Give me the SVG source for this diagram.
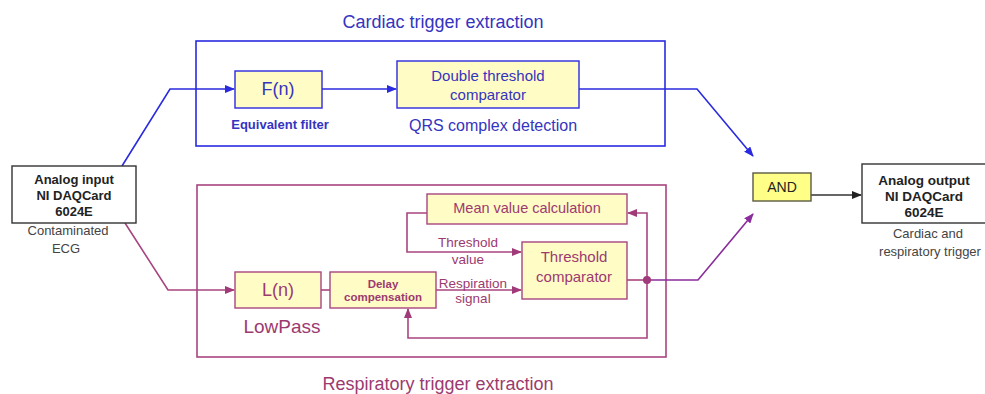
<svg xmlns="http://www.w3.org/2000/svg" width="985" height="394" viewBox="0 0 985 394">
<defs>
<style>
text{font-family:"Liberation Sans",Arial,sans-serif;text-anchor:middle;dominant-baseline:central}
.bl{stroke:#2a2ae0;stroke-width:1.6;fill:none}
.pu{stroke:#a8457f;stroke-width:1.6;fill:none}
.vi{stroke:#8a2c9c;stroke-width:1.6;fill:none}
.bk{stroke:#333;stroke-width:1.4;fill:none}
.bbox{fill:#fffcc6;stroke:#2a2ae0;stroke-width:1.4}
.pbox{fill:#fffcc6;stroke:#a8457f;stroke-width:1.4}
.wbox{fill:#fff;stroke:#333;stroke-width:1.4}
.bt{fill:#3434c0}
.pt{fill:#9c3a70}
.kt{fill:#222}
.gt{fill:#444}
</style>
<marker id="ab" markerWidth="10" markerHeight="8" refX="9" refY="4" orient="auto" markerUnits="userSpaceOnUse"><path d="M0,0 L10,4 L0,8 z" fill="#2a2ae0"/></marker>
<marker id="ap" markerWidth="10" markerHeight="8" refX="9" refY="4" orient="auto" markerUnits="userSpaceOnUse"><path d="M0,0 L10,4 L0,8 z" fill="#a03a78"/></marker>
<marker id="av" markerWidth="10" markerHeight="8" refX="9" refY="4" orient="auto" markerUnits="userSpaceOnUse"><path d="M0,0 L10,4 L0,8 z" fill="#8a2c9c"/></marker>
<marker id="ak" markerWidth="10" markerHeight="8" refX="9" refY="4" orient="auto" markerUnits="userSpaceOnUse"><path d="M0,0 L10,4 L0,8 z" fill="#222"/></marker>
</defs>
<rect width="985" height="394" fill="#fff"/>

<g id="cardiac-group">
<rect x="196" y="41" width="469" height="105" fill="none" stroke="#2a2ae0" stroke-width="1.6"/>
<text x="443" y="22" font-size="18" class="bt">Cardiac trigger extraction</text>
</g>
<g id="respiratory-group">
<rect x="197" y="185" width="469" height="172" fill="none" stroke="#a8457f" stroke-width="1.6"/>
<text x="438" y="384" font-size="18" class="pt">Respiratory trigger extraction</text>
</g>

<g id="connectors">
<polyline class="bl" points="122,166 170,89 234,89" marker-end="url(#ab)"/>
<line class="bl" x1="322" y1="89" x2="396" y2="89" marker-end="url(#ab)"/>
<polyline class="bl" points="579,89 697,89 753,156" marker-end="url(#ab)"/>
<polyline class="pu" points="125,223 168,290 234,290" marker-end="url(#ap)"/>
<line class="pu" x1="321" y1="290" x2="330" y2="290"/>
<line class="pu" x1="436" y1="290" x2="521" y2="290" marker-end="url(#ap)"/>
<polyline class="pu" points="427,213 407,213 407,252 521,252" marker-end="url(#ap)"/>
<line class="pu" x1="627" y1="280" x2="647" y2="280"/>
<polyline class="pu" points="647,280 647,213 628,213" marker-end="url(#ap)"/>
<polyline class="pu" points="647,280 647,338 408,338 408,309" marker-end="url(#ap)"/>
<polyline class="vi" points="647,280 698,280 753,214" marker-end="url(#av)"/>
<circle cx="647" cy="280" r="4" fill="#a03a78"/>
<line class="bk" x1="811" y1="195" x2="861" y2="195" marker-end="url(#ak)"/>
</g>

<g id="analog-input">
<rect class="wbox" x="12" y="166" width="124" height="57"/>
<text x="74" y="179" font-size="13" font-weight="bold" class="kt">Analog input</text>
<text x="74" y="195" font-size="13" font-weight="bold" class="kt">NI DAQCard</text>
<text x="74" y="211" font-size="13" font-weight="bold" class="kt">6024E</text>
<text x="68" y="230" font-size="13" class="gt">Contaminated</text>
<text x="66" y="248" font-size="13" class="gt">ECG</text>
</g>

<g id="fn">
<rect class="bbox" x="235" y="71" width="87" height="37"/>
<text x="278" y="89" font-size="18" class="bt">F(n)</text>
<text x="280" y="124" font-size="13" font-weight="bold" class="bt">Equivalent filter</text>
</g>

<g id="double-threshold">
<rect class="bbox" x="397" y="61" width="182" height="47"/>
<text x="488" y="75" font-size="15" class="bt">Double threshold</text>
<text x="488" y="94" font-size="15" class="bt">comparator</text>
<text x="493" y="125" font-size="16" class="bt">QRS complex detection</text>
</g>

<g id="ln">
<rect class="pbox" x="235" y="272" width="86" height="36"/>
<text x="278" y="290" font-size="18" class="pt">L(n)</text>
<text x="282" y="326" font-size="19" class="pt">LowPass</text>
</g>

<g id="delay">
<rect class="pbox" x="330" y="272" width="106" height="36"/>
<text x="383" y="284" font-size="11.5" font-weight="bold" class="pt">Delay</text>
<text x="383" y="297" font-size="11.5" font-weight="bold" class="pt">compensation</text>
</g>

<g id="mean-value">
<rect class="pbox" x="427" y="194" width="200" height="30"/>
<text x="527" y="208" font-size="14.5" class="pt">Mean value calculation</text>
</g>

<g id="threshold-comparator">
<rect class="pbox" x="522" y="242" width="105" height="57"/>
<text x="574" y="256" font-size="15" class="pt">Threshold</text>
<text x="574" y="276" font-size="15" class="pt">comparator</text>
</g>

<g id="labels">
<text x="468" y="242" font-size="13.5" class="pt">Threshold</text>
<text x="468" y="259" font-size="13.5" class="pt">value</text>
<text x="473" y="283" font-size="13.5" class="pt">Respiration</text>
<text x="473" y="298" font-size="13.5" class="pt">signal</text>
</g>

<g id="and">
<rect x="753" y="173" width="58" height="28" fill="#ffff88" stroke="#5a5a40" stroke-width="1.4"/>
<text x="782" y="187" font-size="14" class="kt">AND</text>
</g>

<g id="analog-output">
<rect class="wbox" x="862" y="164" width="130" height="59"/>
<text x="924" y="180" font-size="13.5" font-weight="bold" class="kt">Analog output</text>
<text x="924" y="196" font-size="13.5" font-weight="bold" class="kt">NI DAQCard</text>
<text x="924" y="212" font-size="13.5" font-weight="bold" class="kt">6024E</text>
<text x="928" y="233" font-size="13" class="gt">Cardiac and</text>
<text x="930" y="251" font-size="13" class="gt">respiratory trigger</text>
</g>
</svg>
